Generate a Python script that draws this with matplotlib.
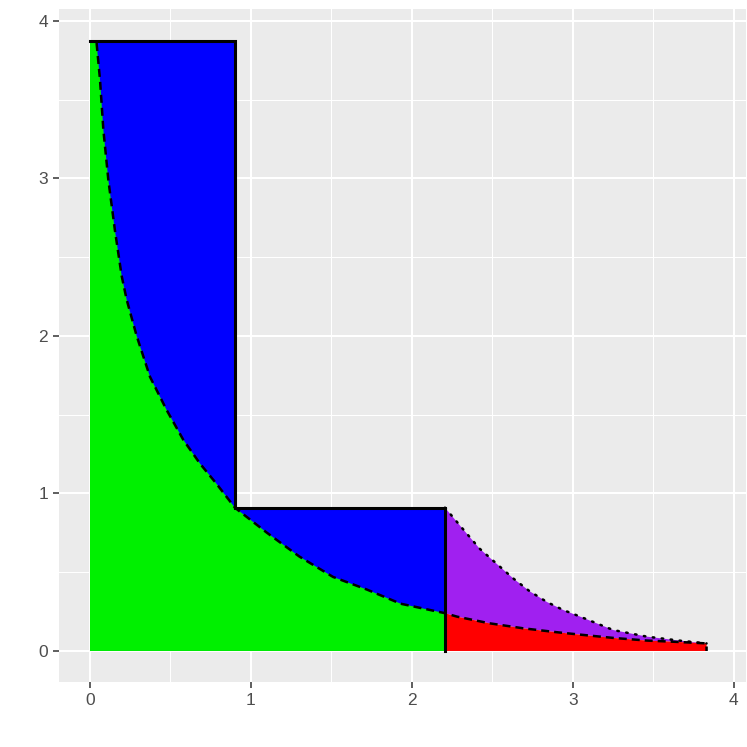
# ============================
# Import Libraries
# ============================

import numpy as np
import matplotlib.pyplot as plt

# ============================
# Data
# ============================

# dashed curve (density-like), left part up to the cut at x = 2.205
curve_x = [0.041, 0.062, 0.083, 0.114, 0.155, 0.197, 0.228, 0.29, 0.373,
           0.476, 0.58, 0.683, 0.787, 0.90, 1.10, 1.30, 1.51, 1.72, 1.93, 2.205]
curve_y = [3.86, 3.63, 3.31, 2.99, 2.67, 2.38, 2.23, 2.0, 1.74,
           1.53, 1.34, 1.19, 1.06, 0.91, 0.75, 0.60, 0.47, 0.39, 0.30, 0.24]

# dashed curve, right part (tail)
tail_x = [2.205, 2.28, 2.48, 2.69, 2.90, 3.11, 3.25, 3.46, 3.66, 3.83]
tail_y = [0.24, 0.218, 0.176, 0.144, 0.119, 0.097, 0.083, 0.066, 0.057, 0.048]

# dotted envelope over the tail
env_x = [2.205, 2.32, 2.42, 2.53, 2.63, 2.73, 2.84, 2.94, 3.04, 3.25, 3.46, 3.66, 3.83]
env_y = [0.91, 0.77, 0.65, 0.55, 0.46, 0.38, 0.31, 0.26, 0.22, 0.133, 0.091, 0.066, 0.048]

# stair (rectangles)
step_x = [0.0, 0.90, 2.205]
step_y = [3.87, 0.91]

# ============================
# Figure
# ============================

fig = plt.figure(figsize=(7.47, 7.47), dpi=100)
ax = fig.add_axes([59 / 747, 1 - 682 / 747, 687 / 747, 673 / 747])
ax.set_facecolor("#EBEBEB")

# blue stair region
bx = [step_x[0], step_x[1], step_x[1], step_x[2], step_x[2], step_x[0]]
by = [step_y[0], step_y[0], step_y[1], step_y[1], 0, 0]
ax.fill(bx, by, color="#0000FF", lw=0, zorder=2)

# green area under curve
gx = [0.0, 0.0] + curve_x + [curve_x[-1]]
gy = [0.0, curve_y[0]] + curve_y + [0.0]
ax.fill(gx, gy, color="#00F000", lw=0, zorder=3)

# purple between envelope and tail
px = env_x + tail_x[::-1]
py = env_y + tail_y[::-1]
ax.fill(px, py, color="#A020F0", lw=0, zorder=3)

# red area under tail
rx = tail_x + [tail_x[-1], tail_x[0]]
ry = tail_y + [0.0, 0.0]
ax.fill(rx, ry, color="#FF0000", lw=0, zorder=3)

# solid stair outline
sx = [step_x[0], step_x[1], step_x[1], step_x[2], step_x[2]]
sy = [step_y[0], step_y[0], step_y[1], step_y[1], 0]
ax.plot(sx, sy, color="black", lw=2.2, zorder=5, solid_joinstyle="miter")

# dashed curve
dx = curve_x + tail_x[1:] + [tail_x[-1]]
dy = curve_y + tail_y[1:] + [0.0]
ax.plot(dx, dy, color="black", lw=1.8, dashes=(3.2, 2.0), zorder=5)

# dotted envelope
ax.plot(env_x, env_y, color="black", lw=1.8, linestyle=(0, (0.6, 3.0)),
        dash_capstyle="round", zorder=5)

# ============================
# Axes styling (ggplot look)
# ============================

ax.set_xlim(-0.1925, 4.075)
ax.set_ylim(-0.197, 4.076)

ticks = [0, 1, 2, 3, 4]
ax.set_xticks(ticks)
ax.set_yticks(ticks)
ax.set_xticks(np.arange(0.5, 4, 1), minor=True)
ax.set_yticks(np.arange(0.5, 4, 1), minor=True)

ax.grid(which="major", color="white", lw=1.5, zorder=0)
ax.grid(which="minor", color="white", lw=0.75, zorder=0)
ax.set_axisbelow(True)

for s in ax.spines.values():
    s.set_visible(False)

ax.tick_params(which="major", length=4.5, width=1.1, color="#333333",
               labelsize=12.5, labelcolor="#4D4D4D", pad=3.5)
ax.tick_params(which="minor", length=0)
for lab in ax.get_xticklabels() + ax.get_yticklabels():
    lab.set_family("Liberation Sans")

fig.savefig("out.png", dpi=100)
